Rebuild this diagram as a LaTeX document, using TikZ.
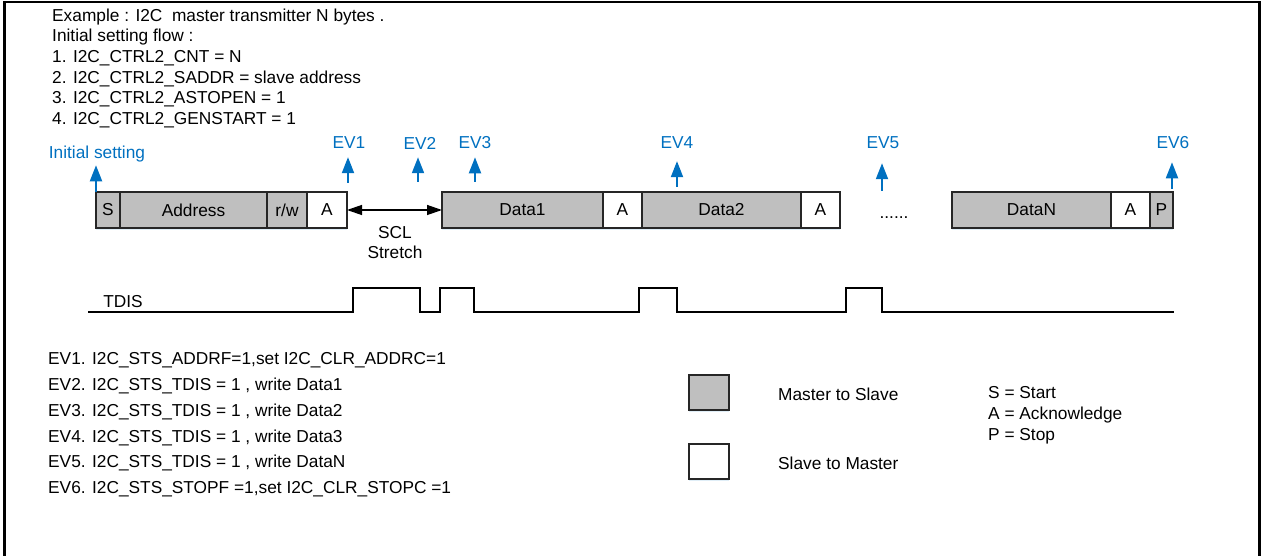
\documentclass[tikz,border=0pt]{standalone}
\usepackage{fontspec}
\setmainfont{Liberation Sans}
\usepackage{xcolor}
\usepackage{tikz}
\usetikzlibrary{arrows.meta,shadows}

\definecolor{evblue}{RGB}{0,112,192}
\definecolor{boxgray}{RGB}{191,191,191}
\definecolor{boxline}{RGB}{38,38,38}

\begin{document}
\begin{tikzpicture}[x=1bp, y=-1bp,
		font=\fontsize{17.3bp}{20.6bp}\selectfont,
		field/.style={draw=boxline, line width=1.3bp, minimum height=36bp, inner sep=0pt, outer sep=0pt, anchor=west,
			drop shadow={shadow xshift=0bp, shadow yshift=-2bp, fill=evblue!12, opacity=1}},
		mfield/.style={field, fill=boxgray},
		sfield/.style={field, fill=white},
		evlabel/.style={text=evblue, inner sep=0pt},
		evarrow/.style={evblue, line width=2bp, -{Triangle[length=16bp,width=12bp]}}]
		\useasboundingbox (0,0) rectangle (1265,556);
		\draw[line width=2.7bp] (4.7,560) -- (4.7,2) -- (1259.7,2) -- (1259.7,560);
		
		% setting flow
		\node[anchor=north west, align=left, inner sep=0pt] (flow) at (52,8.6)
			{Example : I2C~ master transmitter N bytes .\\
			 Initial setting flow :\\
			 1. I2C\_CTRL2\_CNT = N\\
			 2. I2C\_CTRL2\_SADDR = slave address\\
			 3. I2C\_CTRL2\_ASTOPEN = 1\\
			 4. I2C\_CTRL2\_GENSTART = 1};
		
		% frame on the bus
		\node[mfield, minimum width=24bp] (s) at (96,210) {S};
		\node[mfield, minimum width=147bp] (addr) at (s.east) {Address};
		\node[mfield, minimum width=40bp] (rw) at (addr.east) {r/w};
		\node[sfield, minimum width=40bp] (a1) at (rw.east) {A};
		\node[mfield, minimum width=161bp] (d1) at (442,210) {Data1};
		\node[sfield, minimum width=39bp] (a2) at (d1.east) {A};
		\node[mfield, minimum width=159bp] (d2) at (a2.east) {Data2};
		\node[sfield, minimum width=39bp] (a3) at (d2.east) {A};
		\node[inner sep=0pt] (dots) at (894,218) {......};
		\node[mfield, minimum width=159bp] (dn) at (952,210) {DataN};
		\node[sfield, minimum width=39bp] (a4) at (dn.east) {A};
		\node[mfield, minimum width=23bp] (p) at (a4.east) {P};
		
		\draw[line width=1.3bp, {Triangle[length=15bp,width=10bp]}-{Triangle[length=15bp,width=10bp]}] (a1.east) -- (d1.west);
		\node[align=center, inner sep=0pt, font=\fontsize{17.3bp}{20bp}\selectfont] (scl) at (395,243) {SCL\\Stretch};
		
		% events
		\node[evlabel] (init) at (97,154) {Initial setting};
		\node[evlabel] (ev1) at (349,143) {EV1};
		\node[evlabel] (ev2) at (420,143) {EV2};
		\node[evlabel] (ev3) at (475,143) {EV3};
		\node[evlabel] (ev4) at (677,143) {EV4};
		\node[evlabel] (ev5) at (883,143) {EV5};
		\node[evlabel] (ev6) at (1173,143) {EV6};
		
		\coordinate (t1) at (348,183);
		\coordinate (t2) at (418,182);
		\coordinate (t3) at (475,182);
		\coordinate (t4) at (677,187);
		\coordinate (t5) at (882,191);
		\coordinate (t6) at (1172,189);
		
		\draw[evarrow, shorten >=3bp] (s.north west) -- (s.north west |- init.south);
		\draw[evarrow, shorten >=8bp] (t1) -- (t1 |- ev1.south);
		\draw[evarrow, shorten >=8bp] (t2) -- (t2 |- ev2.south);
		\draw[evarrow, shorten >=8bp] (t3) -- (t3 |- ev3.south);
		\draw[evarrow, shorten >=12bp] (t4) -- (t4 |- ev4.south);
		\draw[evarrow, shorten >=14bp] (t5) -- (t5 |- ev5.south);
		\draw[evarrow, shorten >=13bp] (t6) -- (t6 |- ev6.south);
		
		% TDIS
		\node[inner sep=0pt] (tdis) at (123,302) {TDIS};
		\draw[line width=1.5bp] (88,312) -- (353,312) -- (353,288) -- (420,288) -- (420,312) -- (440,312)
			-- (440,288) -- (474,288) -- (474,312) -- (639,312) -- (639,288) -- (677,288) -- (677,312)
			-- (846,312) -- (846,288) -- (882,288) -- (882,312) -- (1174,312);
		
		% event list
		\node[anchor=north west, align=left, inner sep=0pt, font=\fontsize{17.3bp}{25.8bp}\selectfont] (evlist) at (48,352.5)
			{EV1. I2C\_STS\_ADDRF=1,set I2C\_CLR\_ADDRC=1\\
			 EV2. I2C\_STS\_TDIS = 1 , write Data1\\
			 EV3. I2C\_STS\_TDIS = 1 , write Data2\\
			 EV4. I2C\_STS\_TDIS = 1 , write Data3\\
			 EV5. I2C\_STS\_TDIS = 1 , write DataN\\
			 EV6. I2C\_STS\_STOPF =1,set I2C\_CLR\_STOPC =1};
		
		% legend
		\node[mfield, minimum width=40bp, minimum height=35bp] (legm) at (689,392.5) {};
		\node[sfield, minimum width=40bp, minimum height=35bp] (legs) at (689,461.5) {};
		\node[anchor=west, inner sep=0pt] (legmtext) at (778,394) {Master to Slave};
		\node[anchor=west, inner sep=0pt] (legstext) at (778,463) {Slave to Master};
		\node[anchor=west, align=left, inner sep=0pt, font=\fontsize{17.3bp}{21bp}\selectfont] (abbr) at (988,415)
			{S = Start\\A = Acknowledge\\P = Stop};
	\end{tikzpicture}
\end{document}
